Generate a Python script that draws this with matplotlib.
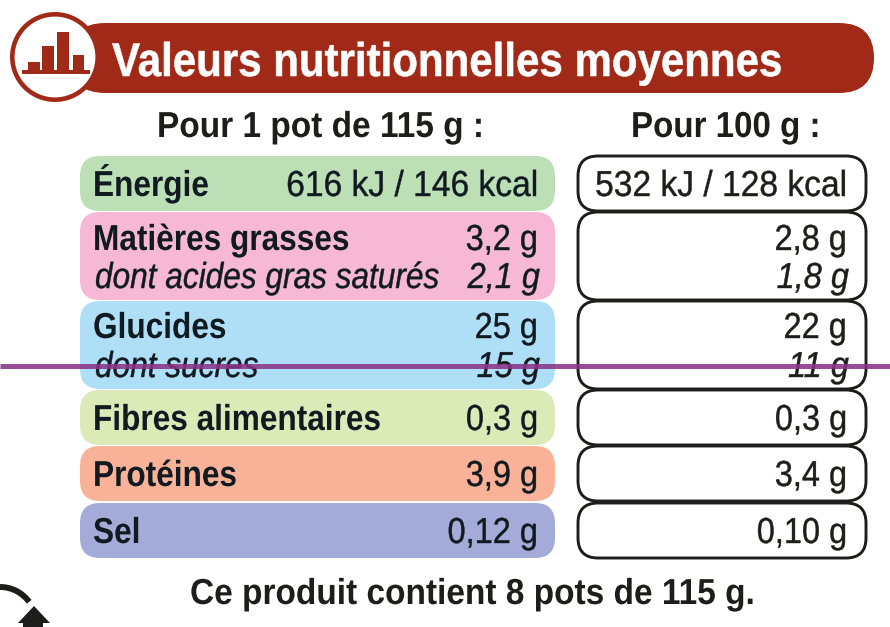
import matplotlib
matplotlib.use("Agg")
import matplotlib.pyplot as plt
from matplotlib.patches import FancyBboxPatch, Circle, Rectangle, Arc, Polygon
from matplotlib.patheffects import AbstractPathEffect
from matplotlib.text import Text
from matplotlib.transforms import Affine2D, Bbox

FAM = ['Liberation Sans', 'DejaVu Sans']

title = "Valeurs nutritionnelles moyennes"
head_left = "Pour 1 pot de 115 g :"
head_right = "Pour 100 g :"
footer = "Ce produit contient 8 pots de 115 g."
labels = ["Énergie", "Matières grasses", "dont acides gras saturés", "Glucides", "dont sucres",
          "Fibres alimentaires", "Protéines", "Sel"]
per_pot = ["616 kJ / 146 kcal", "3,2 g", "2,1 g", "25 g", "15 g", "0,3 g", "3,9 g", "0,12 g"]
per_100 = ["532 kJ / 128 kcal", "2,8 g", "1,8 g", "22 g", "11 g", "0,3 g", "3,4 g", "0,10 g"]

# layout (pixels)
row_tops = [156, 212, 301, 390, 446, 503]
row_bots = [211, 300, 389, 445, 501, 558]
row_cols = ['#bcdfb6', '#f6b8d5', '#aedff7', '#dceab8', '#f9b298', '#a5abd8']
baselines = [196, 250, 288, 338, 377, 430, 486, 543]
italic = [False, False, True, False, True, False, False, False]
DARK = '#1d1d1b'
RED = '#a02a17'
INK = '#101a20'

fig = plt.figure(figsize=(8.9, 6.27), dpi=100)
ax = fig.add_axes([0, 0, 1, 1])
ax.set_xlim(0, 890)
ax.set_ylim(627, 0)
ax.axis('off')


class Squeeze(AbstractPathEffect):
    """Horizontal condensing of a text about its anchor, with optional emboldening."""
    def __init__(self, anchor, sx, bold=0.0):
        super().__init__()
        self.anchor, self.sx, self.bold = anchor, sx, bold

    def draw_path(self, renderer, gc, tpath, affine, rgbFace=None):
        a = affine + Affine2D().translate(-self.anchor, 0).scale(self.sx, 1).translate(self.anchor, 0)
        if self.bold > 0:
            g = renderer.new_gc()
            g.copy_properties(gc)
            g.set_linewidth(self.bold)
            g.set_foreground(rgbFace)
            renderer.draw_path(g, tpath, a, rgbFace)
            g.restore()
        else:
            renderer.draw_path(gc, tpath, a, rgbFace)


class CondText(Text):
    def __init__(self, x, y, s, sx=1.0, embolden=0.0, **kw):
        super().__init__(x, y, s, **kw)
        self.sx = sx
        self.embolden = embolden

    def _anchor(self):
        return self.get_transform().transform(self.get_unitless_position())[0]

    def draw(self, renderer):
        self.set_path_effects([Squeeze(self._anchor(), self.sx, self.embolden)])
        super().draw(renderer)

    def get_window_extent(self, renderer=None, dpi=None):
        b = super().get_window_extent(renderer, dpi)
        X = self._anchor()
        return Bbox([[X + (b.x0 - X) * self.sx, b.y0], [X + (b.x1 - X) * self.sx, b.y1]])


def put(x, y, s, sx, size=26, weight='normal', style='normal', color=DARK, ha='left', embolden=0.0, zorder=3):
    t = CondText(x, y, s, sx=sx, embolden=embolden, family=FAM, weight=weight, style=style, size=size,
                 color=color, ha=ha, va='baseline', zorder=zorder)
    ax.add_artist(t)
    return t


def rbox(x0, y0, x1, y1, r, **kw):
    p = FancyBboxPatch((x0 + r, y0 + r), x1 - x0 - 2 * r, y1 - y0 - 2 * r,
                       boxstyle=f"round,pad={r},rounding_size={r}", **kw)
    ax.add_patch(p)


# banner
rbox(70, 23, 874, 93, 35, fc=RED, ec='none', zorder=1)
ax.add_patch(Circle((55, 57), 42.7, fc='white', ec=RED, lw=3.3, zorder=2))
ax.add_patch(Rectangle((22, 70), 68, 4, fc=RED, ec='none', zorder=3))
for x0, top, w in [(28, 62, 12), (42, 46, 12), (57, 32, 12), (73, 55, 11)]:
    ax.add_patch(Rectangle((x0, top), w, 71 - top, fc=RED, ec='none', zorder=3))
put(112, 76, title, 0.89, size=34, weight='bold', color='white', embolden=0.4, zorder=4)

put(157, 137, head_left, 0.926, weight='bold')
put(631, 137, head_right, 0.917, weight='bold')

# rows
for t, b, c in zip(row_tops, row_bots, row_cols):
    rbox(80, t, 555, b, 20, fc=c, ec='none', zorder=1)
    rbox(578, t, 866, b, 20, fc='white', ec=DARK, lw=2.1, zorder=1)

for lab, a, v, y, it in zip(labels, per_pot, per_100, baselines, italic):
    style = 'italic' if it else 'normal'
    dx = 2 if it else 0
    num_sx = 0.93 if 'kJ' in a else 0.90
    put(93 + dx, y, lab, 0.875 if it else 0.875, weight='normal' if it else 'bold', style=style, color=INK,
        embolden=0.3 if it else 0.0)
    put(538 + dx, y, a, num_sx, style=style, color=INK, ha='right', embolden=0.3)
    put(847 + dx, y, v, num_sx, style=style, ha='right', embolden=0.3)

put(190, 604, footer, 0.926, weight='bold')

# recycling arrow fragment
ax.add_patch(Arc((0, 623), 72, 72, theta1=-90, theta2=-36, color=DARK, lw=4.3, zorder=3))
ax.add_patch(Polygon([[18, 623], [34, 606], [50, 623], [43, 623], [43, 627], [23, 627], [23, 623]],
                     fc=DARK, ec='none', zorder=3))

# purple line across the label
ax.plot([0, 890], [365.5, 365.5], color='#8a3586', alpha=0.88, lw=3.6, zorder=5, solid_capstyle='butt')

fig.savefig('out.png', dpi=100)
